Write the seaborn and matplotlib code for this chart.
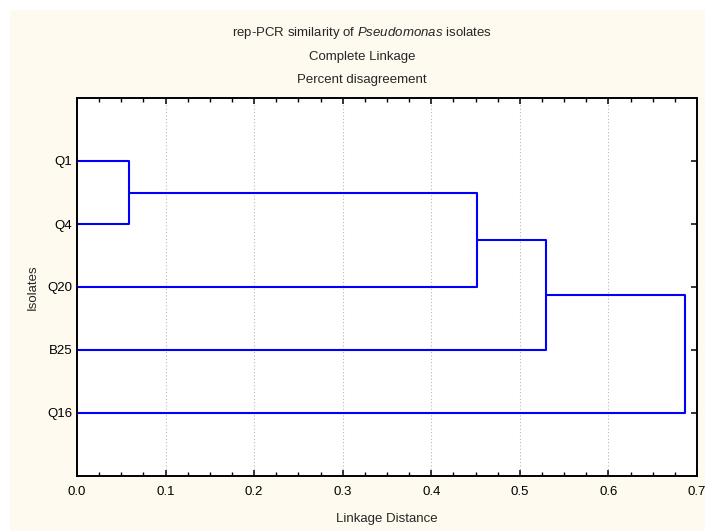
import numpy as np
import pandas as pd
import matplotlib
matplotlib.use('Agg')
import matplotlib.pyplot as plt
import seaborn as sns
from matplotlib.patches import Rectangle
from matplotlib.ticker import MultipleLocator

sns.set_style('white')
plt.rcParams['font.family'] = ['Liberation Sans', 'DejaVu Sans']
plt.rcParams['mathtext.fontset'] = 'custom'
plt.rcParams['mathtext.it'] = 'Liberation Sans:italic'
plt.rcParams['mathtext.rm'] = 'Liberation Sans'

# Leaf order (top to bottom) and the merge steps: (left node, right node, height)
leaves = ['Q1', 'Q4', 'Q20', 'B25', 'Q16']
merge_left = ['Q1', 'C1', 'C2', 'C3']
merge_right = ['Q4', 'Q20', 'B25', 'Q16']
merge_height = [0.059, 0.452, 0.530, 0.686]

# build dendrogram segments
pos = {name: (0.0, i + 1) for i, name in enumerate(leaves)}
rows = []
for k, (a, b, h) in enumerate(zip(merge_left, merge_right, merge_height)):
    xa, ya = pos[a]
    xb, yb = pos[b]
    for x, y in [(xa, ya), (h, ya), (h, yb), (xb, yb)]:
        rows.append({'seg': k, 'x': x, 'y': y})
    pos['C%d' % (k + 1)] = (h, (ya + yb) / 2)
seg_df = pd.DataFrame(rows)

fig = plt.figure(figsize=(7.05, 5.31), dpi=100)
fig.patch.set_facecolor('white')
bg = Rectangle((10 / 705, 0), 1, (531 - 10) / 531, transform=fig.transFigure,
               facecolor='#fffaf0', edgecolor='none', zorder=-10)
fig.add_artist(bg)

ax = fig.add_axes([77 / 705, 55 / 531, 620 / 705, 378 / 531])
ax.set_facecolor('white')

sns.lineplot(data=seg_df, x='x', y='y', units='seg', estimator=None, sort=False,
             color='#0000ff', linewidth=1.5, ax=ax)

ax.set_xlim(0, 0.7)
ax.set_ylim(6, 0)
ax.set_yticks(range(1, len(leaves) + 1))
ax.set_yticklabels(leaves)
ax.xaxis.set_major_locator(MultipleLocator(0.1))
ax.xaxis.set_minor_locator(MultipleLocator(0.025))
ax.set_xticks(np.arange(0, 0.71, 0.1))
ax.set_xticklabels(['%.1f' % v for v in np.arange(0, 0.71, 0.1)])
ax.xaxis.grid(True, which='major', linestyle=(0, (1, 2)), color='#b8b8b8', linewidth=0.8)
ax.yaxis.grid(False)

ax.tick_params(which='both', direction='in', top=True, right=True, bottom=True, left=True,
               labelsize=9.5, colors='black')
ax.tick_params(axis='x', pad=7)
ax.tick_params(axis='y', pad=3.5)
ax.tick_params(which='major', length=4, width=1.1)
ax.tick_params(which='minor', length=3, width=1.0)
for s in ax.spines.values():
    s.set_visible(True)
    s.set_color('black')
    s.set_linewidth(1.4)

ax.set_xlabel('Linkage Distance', fontsize=9.5, labelpad=11)
ax.set_ylabel('Isolates', fontsize=9.5, labelpad=6)

fig.text(362 / 705, 1 - 33 / 531, r'rep-PCR similarity of $\mathit{Pseudomonas}$ isolates',
         ha='center', va='center', fontsize=9.5)
fig.text(362 / 705, 1 - 57 / 531, 'Complete Linkage', ha='center', va='center', fontsize=9.5)
fig.text(362 / 705, 1 - 80 / 531, 'Percent disagreement', ha='center', va='center', fontsize=9.5)

fig.savefig('out.png', dpi=100, facecolor=fig.get_facecolor())
